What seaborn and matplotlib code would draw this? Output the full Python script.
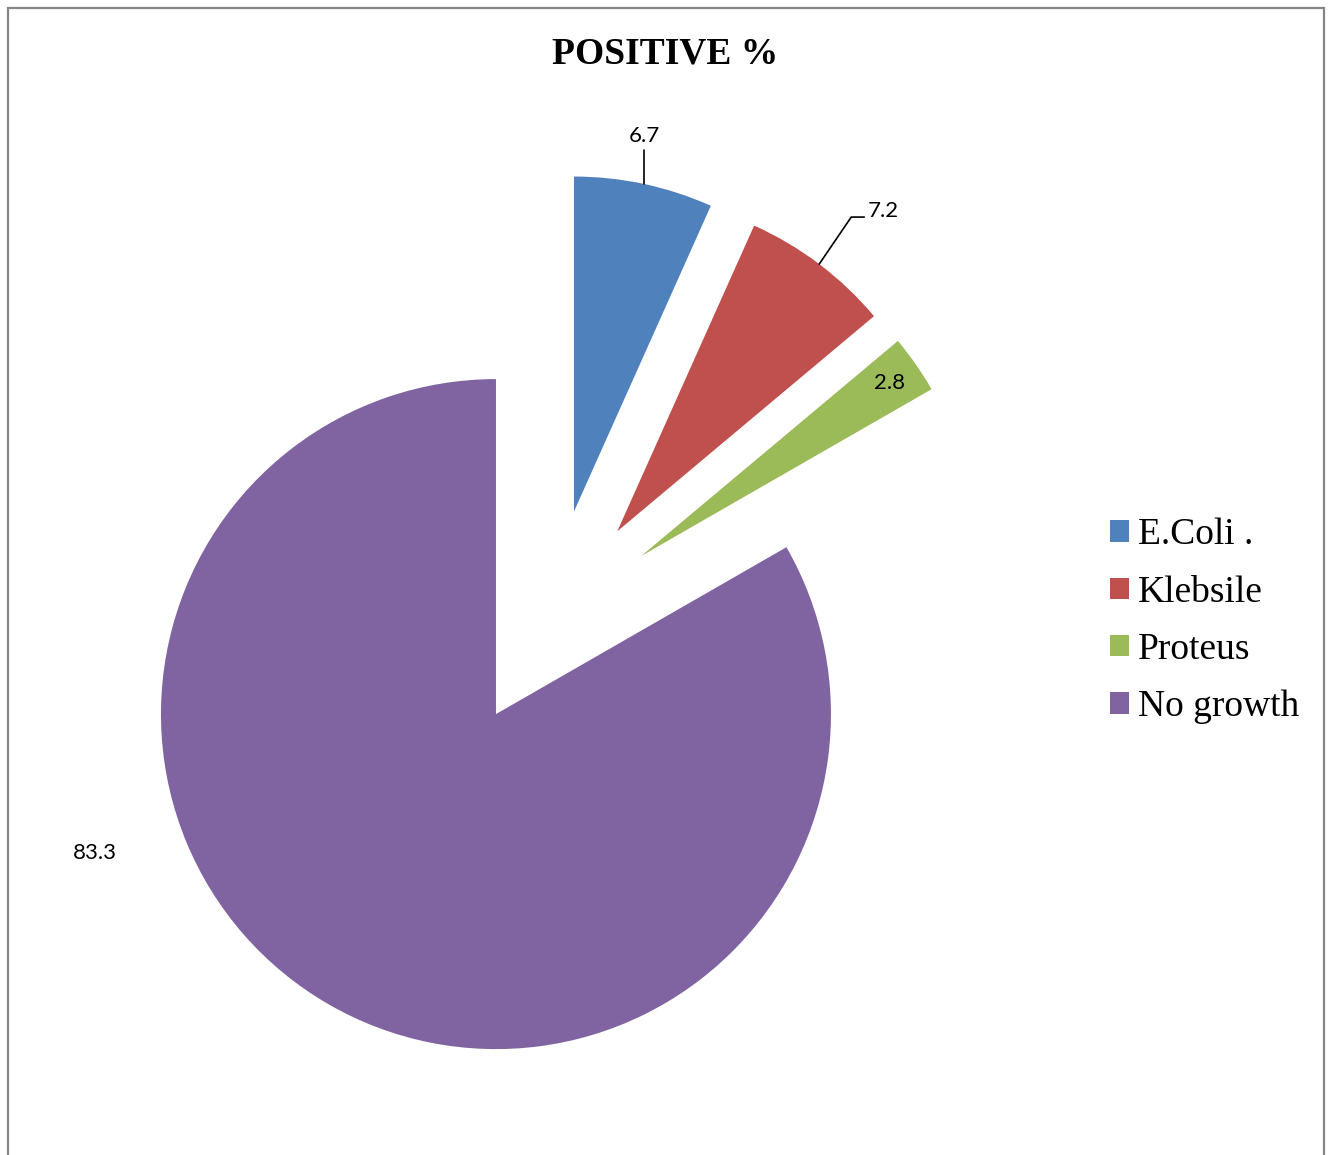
import matplotlib
matplotlib.use("Agg")
import matplotlib.pyplot as plt
import seaborn as sns
import numpy as np
from matplotlib.patches import Rectangle
from matplotlib.font_manager import FontProperties

# Culture results (percent of samples)
categories = ["E.Coli .", "Klebsile", "Proteus", "No growth"]
percent = [6.7, 7.2, 2.8, 83.3]
value_labels = ["6.7", "7.2", "2.8", "83.3"]
slice_colors = ["#4F81BD", "#C0504D", "#9BBB59", "#8064A2"]
title_text = "POSITIVE %"

sns.set_theme(style="white")
plt.rcParams["text.color"] = "black"
palette = sns.color_palette(slice_colors)

W, H = 1333, 1155
PX = 335.0            # pixels per data unit (pie radius)
CX, CY = 551.0, 619.0  # pie centre in pixels

fig = plt.figure(figsize=(W / 100, H / 100), dpi=100)
fig.patch.set_facecolor("white")
ax = fig.add_axes([0, 0, 1, 1])

wedges, _ = ax.pie(
    percent,
    colors=palette,
    startangle=90,
    counterclock=False,
    explode=[0.328] * len(percent),
    radius=1.0,
    wedgeprops=dict(linewidth=0),
)
ax.set_xlim(-CX / PX, (W - CX) / PX)
ax.set_ylim((CY - H) / PX, CY / PX)
ax.set_aspect("auto")
ax.axis("off")


def point_on(w, r_frac, ang_deg=None):
    a = (w.theta1 + w.theta2) / 2 if ang_deg is None else ang_deg
    a = np.deg2rad(a)
    cx, cy = w.center
    return cx + r_frac * w.r * np.cos(a), cy + r_frac * w.r * np.sin(a)


lab_font = dict(family="Lato", size=16, color="black")
lw = 1.2
p = 1.0 / PX

# E.Coli: vertical leader above the slice
x0, y0 = point_on(wedges[0], 1.0)
ax.plot([x0, x0], [y0, y0 + 34 * p], color="black", lw=lw)
ax.text(x0, y0 + 47.5 * p, value_labels[0], ha="center", va="center", **lab_font)

# Klebsile: bent leader to the upper right
x1, y1 = point_on(wedges[1], 1.0)
ax.plot([x1, x1 + 32 * p, x1 + 45 * p], [y1, y1 + 47 * p, y1 + 47 * p],
        color="black", lw=lw)
ax.text(x1 + 49 * p, y1 + 53 * p, value_labels[1], ha="left", va="center", **lab_font)

# Proteus: inside the slice
x2, y2 = point_on(wedges[2], 0.904)
ax.text(x2, y2, value_labels[2], ha="center", va="center", **lab_font)

# No growth: outside, lower left
x3, y3 = point_on(wedges[3], 1.267, -160.9)
ax.text(x3, y3, value_labels[3], ha="center", va="center", **lab_font)

# Title
fig.text(665 / W, 1 - 53.5 / H, title_text, ha="center", va="center", color="black",
         fontproperties=FontProperties(family="Liberation Serif", weight="bold", size=27))

# Legend
handles = [Rectangle((0, 0), 1, 1, facecolor=c, edgecolor="none") for c in palette]
leg = fig.legend(
    handles, categories,
    loc="center left", bbox_to_anchor=(1110 / W, 1 - 621 / H),
    frameon=False,
    prop=FontProperties(family="Liberation Serif", size=27),
    handlelength=0.5, handleheight=0.5, handletextpad=0.24,
    labelspacing=0.61, borderpad=0, borderaxespad=0,
)
for t in leg.get_texts():
    t.set_color("black")

# Chart area border
fig.patches.append(Rectangle((8 / W, -0.01), 1316 / W, 1 - 8 / H + 0.01,
                             transform=fig.transFigure, fill=False,
                             edgecolor="#868686", linewidth=1.6, zorder=10))

fig.savefig("out.png", dpi=100, facecolor="white")
